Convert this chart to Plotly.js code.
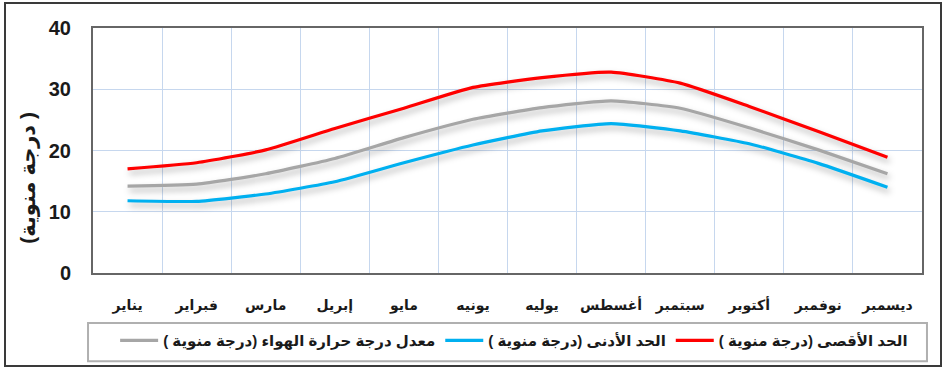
<!DOCTYPE html>
<html>
<head>
<meta charset="utf-8">
<script src="https://cdn.plot.ly/plotly-3.0.1.min.js"></script>
<style>
  html, body { margin: 0; padding: 0; background: #fff; }
  #frame { position: absolute; left: 4px; top: 2px; width: 934px; height: 361px; border: 2px solid #3a3a3a; }
  #chart { width: 934px; height: 361px; }
  .scatterlayer .js-line { filter: drop-shadow(2px 4px 3px rgba(0,0,0,0.3)); }
</style>
</head>
<body>
<div id="frame"><div id="chart"></div></div>
<script>
const months = ["يناير","فبراير","مارس","إبريل","مايو","يونيه","يوليه","أغسطس","سبتمبر","أكتوبر","نوفمبر","ديسمبر"];
const maxTemp = [17.0, 18.0, 20.1, 23.6, 26.9, 30.3, 31.9, 32.8, 31.0, 27.2, 23.1, 18.9];
const avgTemp = [14.2, 14.5, 16.2, 18.7, 22.1, 25.1, 27.0, 28.1, 26.9, 23.7, 20.1, 16.2];
const minTemp = [11.8, 11.7, 12.9, 14.9, 18.0, 20.9, 23.2, 24.4, 23.2, 21.1, 17.9, 14.0];
const names = {
  avg: "معدل درجة حرارة الهواء (درجة منوية )",
  min: "الحد الأدنى (درجة منوية )",
  max: "الحد الأقصى (درجة منوية )"
};
const yTitle = "(درجة منوية )";

const font = "'Liberation Sans', Arial, 'DejaVu Sans', sans-serif";
function tr(y, name, color) {
  return { x: months, y: y, name: name, type: "scatter", mode: "lines",
    line: { color: color, width: 3.2, shape: "spline", smoothing: 0.5 }, hoverinfo: "skip" };
}
const data = [
  tr(avgTemp, names.avg, "#a6a6a6"),
  tr(minTemp, names.min, "#00b0f0"),
  tr(maxTemp, names.max, "#ff0000")
];
const layout = {
  width: 934, height: 361,
  margin: { l: 87, r: 18, t: 24, b: 92 },
  paper_bgcolor: "#ffffff", plot_bgcolor: "#ffffff",
  font: { family: font, color: "#1a1a1a" },
  showlegend: true,
  legend: {
    orientation: "h", xref: "paper", x: 0.508, xanchor: "center",
    yref: "container", y: 0.113, yanchor: "top",
    font: { family: font, size: 15, color: "#1a1a1a", weight: "bold" },
    bgcolor: "rgba(0,0,0,0)", itemwidth: 38, tracegroupgap: 0
  },
  xaxis: {
    type: "category", range: [-0.5, 11.5], tickson: "boundaries", showgrid: true, gridcolor: "#c6d7ee", gridwidth: 1,
    showline: true, mirror: true, linecolor: "#666666", linewidth: 2,
    ticks: "", ticklabelstandoff: 18, tickangle: 0, automargin: false,
    tickfont: { family: font, size: 14, color: "#1a1a1a", weight: "bold" },
    zeroline: false, fixedrange: true
  },
  yaxis: {
    range: [0, 40], dtick: 10, showgrid: true, gridcolor: "#c6d7ee", gridwidth: 1,
    showline: true, mirror: true, linecolor: "#666666", linewidth: 2, automargin: false,
    ticks: "outside", ticklen: 16, tickcolor: "rgba(0,0,0,0)", zeroline: false,
    tickfont: { family: font, size: 20, color: "#1a1a1a", weight: "bold" },
    fixedrange: true
  },
  annotations: [{
    text: yTitle, xref: "paper", yref: "paper", x: -0.078, y: 0.39,
    xanchor: "center", yanchor: "middle", textangle: -90, showarrow: false,
    font: { family: font, size: 21, color: "#1a1a1a", weight: "bold" }
  }],
  shapes: [{
    type: "rect", xref: "paper", yref: "paper",
    x0: -0.006, x1: 1.006, y0: -0.204, y1: -0.36,
    line: { color: "#b0b0b0", width: 2 }, fillcolor: "rgba(0,0,0,0)", layer: "below"
  }]
};
Plotly.newPlot("chart", data, layout, { displayModeBar: false, staticPlot: true });
</script>
</body>
</html>
